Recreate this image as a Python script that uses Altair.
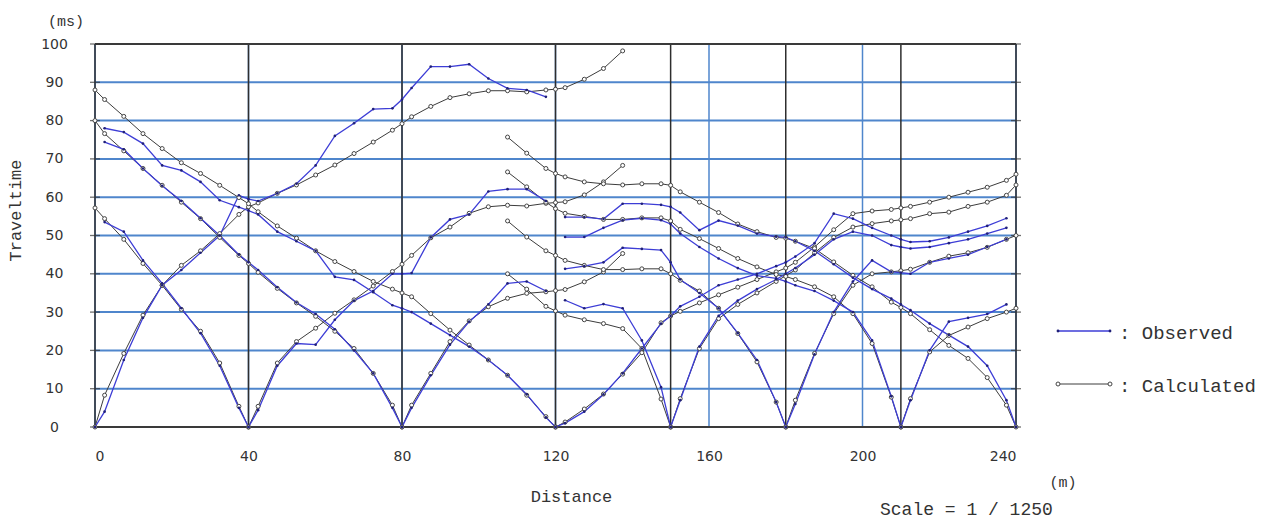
import altair as alt
import pandas as pd

# ---------------- data ----------------
X_TICKS = [0, 40, 80, 120, 160, 200, 240]
Y_TICKS = [0, 10, 20, 30, 40, 50, 60, 70, 80, 90, 100]
Y_GRID = [10, 20, 30, 40, 50, 60, 70, 80, 90]
FRAME_T = [0, 100]
SHOT_X = [0, 40, 80, 120, 150, 180, 210, 240]

# receiver positions (m)
R = [0, 2.5, 7.5, 12.5, 17.5, 22.5, 27.5, 32.5, 37.5, 40,
     42.5, 47.5, 52.5, 57.5, 62.5, 67.5, 72.5, 77.5, 80,
     82.5, 87.5, 92.5, 97.5, 102.5, 107.5, 112.5, 117.5, 120,
     122.5, 127.5, 132.5, 137.5, 142.5, 147.5, 150,
     152.5, 157.5, 162.5, 167.5, 172.5, 177.5, 180,
     182.5, 187.5, 192.5, 197.5, 202.5, 207.5, 210,
     212.5, 217.5, 222.5, 227.5, 232.5, 237.5, 240]

# shot 0, right branch
S0R_CALC = [0, 8.3, 19.2, 29.2, 37, 42.2, 46, 50.5, 55.5, 57.5,
            58.5, 61, 63.2, 65.8, 68.4, 71.4, 74.4, 77.5, 79.2,
            81, 83.7, 86, 87, 87.8, 87.8, 87.5, 88, 88.2,
            88.6, 90.8, 93.6, 98.2]
S0R_OBS = [0, 4, 17.5, 28.5, 37, 41, 45.5, 50, 60.5, 59.5,
           59, 61, 63.5, 68.3, 76, 79.3, 83, 83.2, 85.5,
           88.5, 94.1, 94.1, 94.7, 91, 88.4, 88, 86.2]
# shot 40
S40L_CALC = [57.2, 54.4, 49, 42.7, 37, 30.7, 25, 16.7, 5.4, 0]
S40L_OBS = [53.5, 51, 43.5, 37.5, 31, 24.5, 16, 5, 0]
S40R_CALC = [0, 5.4, 16.7, 22.3, 25.8, 29.7, 33.2, 36.8, 40.6, 42.5,
             44.8, 49.4, 52.2, 55.8, 57.5, 57.9, 57.7, 58.4, 58.6,
             58.8, 60.6, 64, 68.3]
S40R_OBS = [0, 4.4, 16, 21.8, 21.5, 28, 33, 35.5, 40, 40,
            40.2, 49.5, 54.2, 55.5, 61.5, 62.1, 62.1, 59]
# shot 80
S80L_CALC = [80, 76.6, 72.1, 67.5, 63.1, 58.7, 54.4, 49.5, 44.8, 42.7,
             40.4, 36.2, 32.4, 28.9, 25, 20.5, 14, 5.7, 0]
S80L_OBS = [74.4, 72.5, 67.5, 63, 59, 54.5, 50, 45, 43,
            41, 36.5, 32.5, 29.5, 25.5, 20, 14, 5, 0]
S80R_CALC = [0, 5.7, 14, 22.3, 27.7, 31.4, 33.6, 34.9, 35.3, 35.6,
             35.9, 37.9, 40.5, 45.3]
S80R_OBS = [0, 5, 13.5, 21.5, 27.5, 32, 37.5, 38, 35.5]
# shot 120
S120L_CALC = [88, 85.5, 81.1, 76.6, 72.7, 69, 66.2, 63.1, 59.9, 58.3,
              56.2, 52.5, 49.3, 46, 43.2, 40.6, 38, 36, 35,
              34, 29.6, 25.3, 21.4, 17.5, 13.5, 8.3, 2.7, 0]
S120L_OBS = [78, 77, 74, 68.3, 67, 64, 59.2, 57.4, 56.5,
             55.5, 51, 48.5, 46, 39.2, 38.4, 35.2, 31.8, 31,
             30, 27, 24, 21, 17.5, 13.5, 8.5, 2.5, 0]
S120R_CALC = [0, 1.3, 4.7, 8.6, 13.8, 19.4, 27.2, 29,
              30.2, 32.4, 34.5, 36.5, 38.5, 40.5, 41.5,
              43, 47, 51.5, 55.7, 56.4, 56.8, 57.2,
              57.6, 58.7, 60, 61.3, 62.6, 64.4, 66]
S120R_OBS = [0, 1, 4, 8.5, 14, 20.5, 27, 29,
             31.5, 34, 37, 38.5, 40, 42, 43,
             44.5, 48, 55.7, 54.4, 52, 50, 49,
             48.3, 48.5, 49.5, 51, 52.5, 54.5]
# shot 150
S150L_CALC = [40, 36, 31.5, 30.3, 29.2, 28, 27, 25.7, 20.5, 7.3, 0]
S150L_OBS = [33.1, 31, 32.1, 31, 22.6, 10.4, 0]
S150R_CALC = [0, 7.4, 20.5, 28.3, 32, 35, 38, 39.5,
              41, 45.5, 49.5, 52.2, 53.1, 53.8, 54.1,
              54.4, 55.7, 56.1, 57.6, 58.7, 60.5, 63.2]
S150R_OBS = [0, 7, 21, 29, 33, 36, 38.5, 40,
             41.5, 45, 49, 51, 50, 47.5, 47,
             46.6, 47, 48, 49, 50.5, 52]
# shot 180
S180L_CALC = [53.8, 49.6, 46, 44.8, 43.5, 42.2, 41.1, 41.1, 41.3, 41.3, 40,
              38.3, 35.5, 31, 24.4, 17, 6.5, 0]
S180L_OBS = [41.3, 42, 43, 46.8, 46.5, 46.2, 43,
             38.5, 35, 31, 24.5, 17.5, 6.5, 0]
S180R_CALC = [0, 7, 19.2, 29.6, 37, 40, 40.5, 40.8,
              41.2, 43, 44.6, 45.5, 46.9, 49, 50]
S180R_OBS = [0, 6, 19, 30, 38, 43.5, 40.5, 40.3,
             40, 43, 44, 45, 47, 49]
# shot 210
S210L_CALC = [66.6, 62.7, 58.7, 57, 55.8, 55, 54.2, 54.2, 54.6, 54.6, 53.8,
              51.6, 49.2, 46.6, 44, 41.8, 39.8, 39.3,
              38.5, 36.6, 34, 29.6, 21.8, 7.8, 0]
S210L_OBS = [49.6, 49.6, 52, 54, 54.5, 54, 53,
             50.5, 47, 44, 41.5, 39.5, 38.8, 38,
             37, 35.5, 33, 30, 22.6, 8, 0]
S210R_CALC = [0, 7.4, 19.6, 23.9, 26.1, 28.3, 30, 31]
S210R_OBS = [0, 7, 20, 27.5, 28.5, 29.5, 32]
# shot 240, left branch
S240L_CALC = [75.7, 71.5, 67.5, 66.2, 65.3, 64, 63.5, 63.2, 63.5, 63.5, 63.1,
              61.4, 58.7, 56, 53, 51, 49.5, 49.3,
              48.5, 46.6, 43.1, 39.6, 36.6, 32.6, 31.2,
              29.6, 25.4, 21.3, 17.9, 12.9, 5.7, 0]
S240L_OBS = [54.8, 54.8, 54.3, 58.3, 58.3, 58, 57.5,
             56, 51.4, 53.9, 52.6, 50.5, 49.7, 49.5,
             48.5, 46, 42.5, 39, 36, 33.5, 32,
             30.5, 27, 24, 21, 16, 7, 0]

BRANCHES = [
    ("S0R", (0, 137.5), S0R_CALC, (0, 117.5), S0R_OBS),
    ("S40L", (0, 40), S40L_CALC, (2.5, 40), S40L_OBS),
    ("S40R", (40, 137.5), S40R_CALC, (40, 117.5), S40R_OBS),
    ("S80L", (0, 80), S80L_CALC, (2.5, 80), S80L_OBS),
    ("S80R", (80, 137.5), S80R_CALC, (80, 117.5), S80R_OBS),
    ("S120L", (0, 120), S120L_CALC, (2.5, 120), S120L_OBS),
    ("S120R", (120, 240), S120R_CALC, (120, 237.5), S120R_OBS),
    ("S150L", (107.5, 150), S150L_CALC, (122.5, 150), S150L_OBS),
    ("S150R", (150, 240), S150R_CALC, (150, 237.5), S150R_OBS),
    ("S180L", (107.5, 180), S180L_CALC, (122.5, 180), S180L_OBS),
    ("S180R", (180, 240), S180R_CALC, (180, 237.5), S180R_OBS),
    ("S210L", (107.5, 210), S210L_CALC, (122.5, 210), S210L_OBS),
    ("S210R", (210, 240), S210R_CALC, (210, 237.5), S210R_OBS),
    ("S240L", (107.5, 240), S240L_CALC, (122.5, 240), S240L_OBS),
]


def receivers(lo, hi):
    return [x for x in R if lo <= x <= hi]


rows = []
for name, crange, calc, orange, obs in BRANCHES:
    xc = receivers(*crange)
    xo = receivers(*orange)
    assert len(xc) == len(calc), (name, "calc", len(xc), len(calc))
    assert len(xo) == len(obs), (name, "obs", len(xo), len(obs))
    for x, t in zip(xc, calc):
        rows.append({"x": x, "t": t, "kind": "Calculated", "curve": name + "_c"})
    for x, t in zip(xo, obs):
        rows.append({"x": x, "t": t, "kind": "Observed", "curve": name + "_o"})
df = pd.DataFrame(rows)
calc_df = df[df.kind == "Calculated"]
obs_df = df[df.kind == "Observed"]

# ---------------- styling ----------------
MONO = "Liberation Mono"
SANS = "DejaVu Sans"
BLUE_GRID = "#4f86cc"
OBS_COLOR = "#3d3dd6"
OBS_DOT = "#202078"
CALC_COLOR = "#3c3c3c"

XS = alt.Scale(domain=[0, 240], nice=False, zero=False)
YS = alt.Scale(domain=[0, 100], nice=False, zero=False)
XAX = alt.Axis(values=X_TICKS, title="Distance", grid=False, domain=False, ticks=False,
               labelPadding=22, labelFont=SANS, labelFontSize=14, labelColor="#333",
               titleFont=MONO, titleFontSize=17, titleFontWeight="normal", titleColor="#333",
               titleX=476, titleY=69, titleBaseline="middle")
YAX = alt.Axis(values=Y_TICKS, title="Traveltime", grid=False, domain=False, ticks=False,
               labelPadding=41, labelAlign="center", labelFont=SANS, labelFontSize=14,
               labelColor="#333",
               titleFont=MONO, titleFontSize=17, titleFontWeight="normal", titleColor="#333",
               titleX=-80, titleY=166, titleAngle=270, titleBaseline="middle")


def X():
    return alt.X("x:Q", scale=XS, axis=XAX)


def Y():
    return alt.Y("t:Q", scale=YS, axis=YAX)


hgrid = alt.Chart(pd.DataFrame({"t": Y_GRID})).mark_rule(
    color=BLUE_GRID, strokeWidth=2).encode(y=Y())
vgrid = alt.Chart(pd.DataFrame({"x": X_TICKS})).mark_rule(
    color=BLUE_GRID, strokeWidth=1.5).encode(x=X())
shots = alt.Chart(pd.DataFrame({"x": SHOT_X})).mark_rule(
    color="#2e2e2e", strokeWidth=1.5).encode(x=X())
frame = alt.Chart(pd.DataFrame({"t": FRAME_T})).mark_rule(
    color="#3a3a3a", strokeWidth=2).encode(y=Y())
edge_ticks = alt.Chart(pd.DataFrame(
    [{"x": ex, "t": yt} for ex in (0, 240) for yt in Y_TICKS])).mark_tick(
    orient="horizontal", size=10, thickness=1.3, color="#333").encode(x=X(), y=Y())

calc_lines = alt.Chart(calc_df).mark_line(color=CALC_COLOR, strokeWidth=1).encode(
    x=X(), y=Y(), detail="curve:N", order="x:Q")
obs_lines = alt.Chart(obs_df).mark_line(color=OBS_COLOR, strokeWidth=1.3).encode(
    x=X(), y=Y(), detail="curve:N", order="x:Q")
calc_pts = alt.Chart(calc_df).mark_point(
    shape="circle", size=16, fill="white", fillOpacity=1, stroke="#454545",
    strokeWidth=1, opacity=1).encode(x=X(), y=Y())
obs_pts = alt.Chart(obs_df).mark_circle(size=7, color=OBS_DOT, opacity=1).encode(x=X(), y=Y())

# ---------------- legend & annotations ----------------
one = pd.DataFrame({"k": [0]})
leg_obs_line = alt.Chart(one).mark_rule(color=OBS_COLOR, strokeWidth=1.3).encode(
    x=alt.value(963), x2=alt.value(1015), y=alt.value(287))
leg_obs_dot1 = alt.Chart(one).mark_circle(size=8, color=OBS_DOT, opacity=1).encode(
    x=alt.value(963), y=alt.value(287))
leg_obs_dot2 = alt.Chart(one).mark_circle(size=8, color=OBS_DOT, opacity=1).encode(
    x=alt.value(1015), y=alt.value(287))
leg_calc_line = alt.Chart(one).mark_rule(color=CALC_COLOR, strokeWidth=1).encode(
    x=alt.value(963), x2=alt.value(1015), y=alt.value(340))
leg_calc_c1 = alt.Chart(one).mark_point(shape="circle", size=16, fill="white", fillOpacity=1,
                                       stroke="#454545", strokeWidth=1, opacity=1).encode(
    x=alt.value(963), y=alt.value(340))
leg_calc_c2 = alt.Chart(one).mark_point(shape="circle", size=16, fill="white", fillOpacity=1,
                                       stroke="#454545", strokeWidth=1, opacity=1).encode(
    x=alt.value(1015), y=alt.value(340))


def label(text, x, y, size, align="left"):
    return alt.Chart(pd.DataFrame({"label": [text]})).mark_text(
        font=MONO, fontSize=size, color="#333", align=align, baseline="middle").encode(
        x=alt.value(x), y=alt.value(y), text="label:N")


leg_obs_txt = label(": Observed", 1024, 289, 19)
leg_calc_txt = label(": Calculated", 1024, 342, 19)
ms_txt = label("(ms)", -29, -23, 15, "center")
m_txt = label("(m)", 968, 438, 15, "center")
scale_txt = label("Scale = 1 / 1250", 785, 466, 18)

chart = alt.layer(
    hgrid, vgrid, shots, frame, edge_ticks,
    calc_lines, obs_lines, calc_pts, obs_pts,
    leg_obs_line, leg_obs_dot1, leg_obs_dot2,
    leg_calc_line, leg_calc_c1, leg_calc_c2,
    leg_obs_txt, leg_calc_txt, ms_txt, m_txt, scale_txt,
).properties(
    width=921, height=383,
    padding={"left": 87, "top": 36, "right": 255, "bottom": 93},
    autosize=alt.AutoSizeParams(type="none"),
    background="white",
).configure_view(stroke=None)

chart.save("out.html", embed_options={"renderer": "svg", "actions": False})
